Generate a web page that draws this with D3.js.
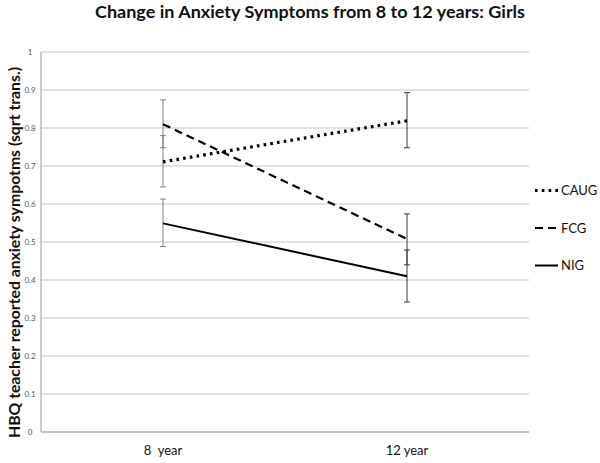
<!DOCTYPE html>
<html><head><meta charset="utf-8">
<script src="https://cdn.jsdelivr.net/npm/d3@7"></script>
<style>body{margin:0;background:#fff}svg{display:block}text{font-family:Lato,"Open Sans",sans-serif}</style>
</head><body>
<svg id="c" width="600" height="463"></svg>
<script>
const categories = ["8  year", "12 year"];
const seriesNames = ["CAUG", "FCG", "NIG"];
const CAUG = [0.711, 0.819];
const FCG = [0.810, 0.508];
const NIG = [0.549, 0.410];
const CAUG_err = [[0.645, 0.780], [0.748, 0.893]];
const FCG_err = [[0.748, 0.874], [0.440, 0.574]];
const NIG_err = [[0.488, 0.613], [0.342, 0.479]];
const yTicks = [0, 0.1, 0.2, 0.3, 0.4, 0.5, 0.6, 0.7, 0.8, 0.9, 1];
const titleText = "Change in Anxiety Symptoms from 8 to 12 years: Girls";
const yTitle = "HBQ teacher reported anxiety sympotms (sqrt trans.)";

const series = [
  {name: "CAUG", values: CAUG, err: CAUG_err, dash: "2.6,4.2", width: 3.2},
  {name: "FCG", values: FCG, err: FCG_err, dash: "8,5", width: 2.2},
  {name: "NIG", values: NIG, err: NIG_err, dash: null, width: 2}
];

const svg = d3.select("#c");
const pL = 41, pR = 529, pT = 52, pB = 432;
const x = d3.scaleBand().domain(categories).range([pL, pR]);
const xc = d => x(d) + x.bandwidth() / 2;
const y = d3.scaleLinear().domain([0, 1]).range([pB, pT]);

// gridlines
svg.append("g").selectAll("line").data(yTicks.filter(t => t > 0)).join("line")
  .attr("x1", pL).attr("x2", pR)
  .attr("y1", d => y(d)).attr("y2", d => y(d))
  .attr("stroke", "#c6c6c6").attr("stroke-width", 1.2);

// axes lines
svg.append("line").attr("x1", pL).attr("x2", pL).attr("y1", pT).attr("y2", pB)
  .attr("stroke", "#a8a8a8").attr("stroke-width", 1.2);
svg.append("line").attr("x1", pL).attr("x2", pR).attr("y1", pB).attr("y2", pB)
  .attr("stroke", "#b0b0b0").attr("stroke-width", 1.4);

// y tick labels
svg.append("g").selectAll("text").data(yTicks).join("text")
  .attr("x", 30).attr("y", d => y(d) + 3)
  .attr("text-anchor", "middle").attr("font-size", 8).attr("fill", "#5a5a5a")
  .text(d => d3.format("")(d));

// x labels
svg.append("g").selectAll("text").data(categories).join("text")
  .attr("x", d => xc(d)).attr("y", 455)
  .attr("text-anchor", "middle").attr("font-size", 13).attr("fill", "#111")
  .style("white-space", "pre")
  .text(d => d);

// error bars
const errColors = ["#808080", "#3a3a3a"];
series.forEach(s => {
  s.err.forEach((e, i) => {
    const cx = xc(categories[i]);
    const g = svg.append("g").attr("stroke", errColors[i]).attr("stroke-width", 1);
    g.append("line").attr("x1", cx).attr("x2", cx).attr("y1", y(e[0])).attr("y2", y(e[1]));
    e.forEach(v => g.append("line").attr("x1", cx - 3).attr("x2", cx + 3).attr("y1", y(v)).attr("y2", y(v)));
  });
});

// lines
const line = d3.line().x((d, i) => xc(categories[i])).y(d => y(d));
series.forEach(s => {
  svg.append("path").datum(s.values).attr("d", line)
    .attr("fill", "none").attr("stroke", "#000").attr("stroke-width", s.width)
    .attr("stroke-dasharray", s.dash);
});

// legend
const legY = d3.scalePoint().domain(seriesNames).range([190.5, 265.5]);
series.forEach(s => {
  const ly = legY(s.name);
  svg.append("line").attr("x1", 535).attr("x2", 558).attr("y1", ly).attr("y2", ly)
    .attr("stroke", "#000").attr("stroke-width", s.width).attr("stroke-dasharray", s.dash);
  svg.append("text").attr("x", 561).attr("y", ly + 4.5).attr("font-size", 13).attr("fill", "#111").text(s.name);
});

// title
svg.append("text").attr("x", 95).attr("y", 17.5).attr("font-size", 17.5).attr("font-weight", "bold")
  .attr("fill", "#111").attr("textLength", 430).attr("lengthAdjust", "spacingAndGlyphs").text(titleText);

// y title
svg.append("text").attr("transform", "translate(19.5,438) rotate(-90)")
  .attr("font-size", 15).attr("font-weight", "bold").attr("fill", "#111")
  .attr("textLength", 371).attr("lengthAdjust", "spacingAndGlyphs").text(yTitle);
</script>
</body></html>
